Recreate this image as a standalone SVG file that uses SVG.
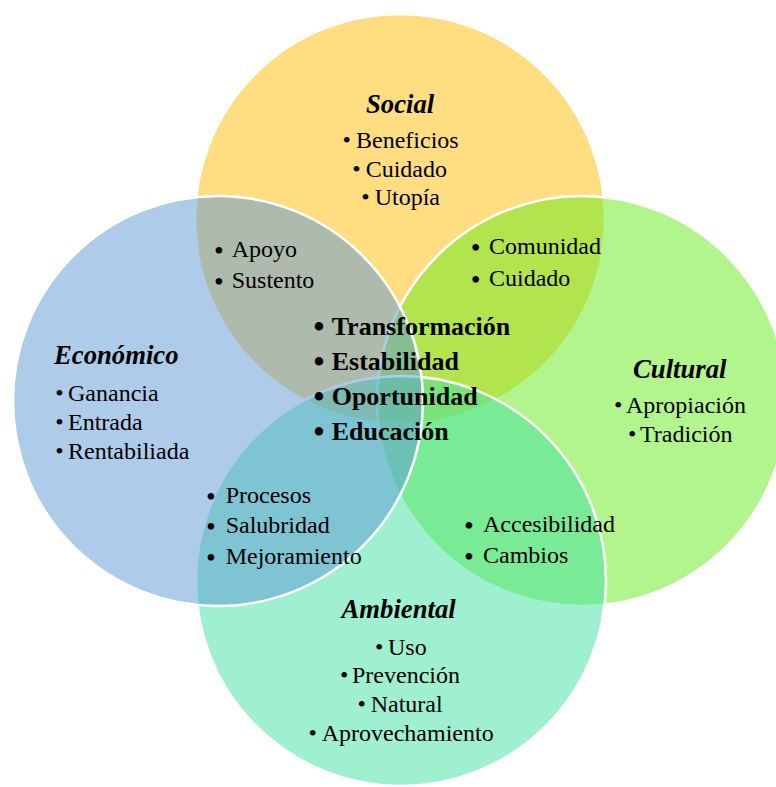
<svg xmlns="http://www.w3.org/2000/svg" width="776" height="787" viewBox="0 0 776 787">
<style>
.c{stroke:#fff;stroke-width:2.5;fill-opacity:0.5}
text{font-family:"Liberation Serif","Times New Roman",serif;fill:#000}
.t{font-size:26.7px;font-weight:bold;font-style:italic}
.i{font-size:24px}
.b{font-size:26px;font-weight:bold}
.bb{font-size:28px}
.bc{font-size:31px}
</style>
<rect width="776" height="787" fill="#fff"/>
<g id="social">
<circle class="c" cx="400" cy="219" r="205" fill="#FFBB01"/>
<text class="t" x="366" y="113">Social</text>
<text class="i" y="148"><tspan x="342.5">•</tspan><tspan x="356">Beneficios</tspan></text>
<text class="i" y="177"><tspan x="352.2">•</tspan><tspan x="365.7">Cuidado</tspan></text>
<text class="i" y="205"><tspan x="361.2">•</tspan><tspan x="374.7">Utopía</tspan></text>
</g>
<g id="cultural">
<circle class="c" cx="582" cy="401" r="205" fill="#65EB19"/>
<text class="t" x="633" y="378">Cultural</text>
<text class="i" y="413"><tspan x="614">•</tspan><tspan x="626">Apropiación</tspan></text>
<text class="i" y="442"><tspan x="628">•</tspan><tspan x="640">Tradición</tspan></text>
</g>
<g id="ambiental">
<circle class="c" cx="401" cy="581" r="205" fill="#3FE1A1"/>
<text class="t" x="341.5" y="618">Ambiental</text>
<text class="i" y="655"><tspan x="375">•</tspan><tspan x="388">Uso</tspan></text>
<text class="i" y="683"><tspan x="340">•</tspan><tspan x="352">Prevención</tspan></text>
<text class="i" y="712"><tspan x="357.5">•</tspan><tspan x="370.7">Natural</tspan></text>
<text class="i" y="741"><tspan x="308.5">•</tspan><tspan x="321.7">Aprovechamiento</tspan></text>
</g>
<g id="economico">
<circle class="c" cx="218" cy="401" r="205" fill="#5D97D5"/>
<text class="t" x="54" y="364">Económico</text>
<text class="i" y="401"><tspan x="55.2">•</tspan><tspan x="68">Ganancia</tspan></text>
<text class="i" y="430"><tspan x="55.2">•</tspan><tspan x="68">Entrada</tspan></text>
<text class="i" y="459"><tspan x="55.2">•</tspan><tspan x="68">Rentabiliada</tspan></text>
</g>
<g id="social-economico">
<text class="i" y="257"><tspan class="bb" x="214" dy="2.5">•</tspan><tspan x="231.7" dy="-2.5">Apoyo</tspan></text>
<text class="i" y="288"><tspan class="bb" x="214" dy="2.5">•</tspan><tspan x="231.7" dy="-2.5">Sustento</tspan></text>
</g>
<g id="social-cultural">
<text class="i" y="254"><tspan class="bb" x="470.7" dy="2.5">•</tspan><tspan x="489" dy="-2.5">Comunidad</tspan></text>
<text class="i" y="286"><tspan class="bb" x="470.7" dy="2.5">•</tspan><tspan x="489" dy="-2.5">Cuidado</tspan></text>
</g>
<g id="economico-ambiental">
<text class="i" y="503"><tspan class="bb" x="206" dy="2.5">•</tspan><tspan x="225.7" dy="-2.5">Procesos</tspan></text>
<text class="i" y="533"><tspan class="bb" x="206" dy="2.5">•</tspan><tspan x="225.7" dy="-2.5">Salubridad</tspan></text>
<text class="i" y="564"><tspan class="bb" x="206" dy="2.5">•</tspan><tspan x="225.7" dy="-2.5">Mejoramiento</tspan></text>
</g>
<g id="cultural-ambiental">
<text class="i" y="532"><tspan class="bb" x="464" dy="2.5">•</tspan><tspan x="483" dy="-2.5">Accesibilidad</tspan></text>
<text class="i" y="563"><tspan class="bb" x="464" dy="2.5">•</tspan><tspan x="483" dy="-2.5">Cambios</tspan></text>
</g>
<g id="centro">
<text class="b" y="335"><tspan class="bc" x="313.5" dy="2">•</tspan><tspan x="331.7" dy="-2">Transformación</tspan></text>
<text class="b" y="370"><tspan class="bc" x="313.5" dy="2">•</tspan><tspan x="331.7" dy="-2">Estabilidad</tspan></text>
<text class="b" y="405"><tspan class="bc" x="313.5" dy="2">•</tspan><tspan x="331.7" dy="-2">Oportunidad</tspan></text>
<text class="b" y="440"><tspan class="bc" x="313.5" dy="2">•</tspan><tspan x="331.7" dy="-2">Educación</tspan></text>
</g>
</svg>
